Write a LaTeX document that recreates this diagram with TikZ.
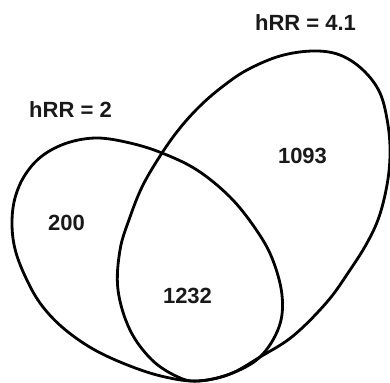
\documentclass[tikz,border=0pt]{standalone}
\usepackage{fontspec}
\setmainfont{Liberation Sans}
\begin{document}
\begin{tikzpicture}[x=1pt,y=-1pt,
  setline/.style={line width=2.8pt,line join=round},
  lbl/.style={font=\fontsize{22}{24}\selectfont\bfseries,text=black!90,inner sep=0pt}]
\useasboundingbox (0,0) rectangle (390,382);
% left set (hRR = 2)
\draw[setline] plot[smooth cycle,tension=0.6] coordinates {
 (97,138) (130,143) (162,153) (197,170) (230,197) (255,228) (272,258)
 (282,295) (279,327) (260,357) (230,374) (198,381) (165,377) (130,366)
 (93,349) (62,327) (40,303) (25,276) (15,249) (12,223) (15,198)
 (25,175) (42,156) (67,143)};
% right set (hRR = 4.1)
\draw[setline] plot[smooth cycle,tension=0.6] coordinates {
 (313,51) (340,55) (363,70) (380,93) (388,125) (390,155) (387,185)
 (379,217) (367,243) (350,270) (327,302) (293,336) (260,357) (230,374)
 (198,381) (178,377) (152,360) (130,330) (118,290) (120,250) (130,217)
 (143,185) (162,153) (180,128) (200,106) (222,87) (247,70) (280,56)};
\node[lbl] (l2) at (70.5,109.5) {hRR = 2};
\node[lbl] (l41) at (305.5,23) {hRR = 4.1};
\node[lbl] (n200) at (66.5,222.5) {200};
\node[lbl] (n1093) at (302.5,155.5) {1093};
\node[lbl] (n1232) at (187.5,296) {1232};
\end{tikzpicture}
\end{document}
